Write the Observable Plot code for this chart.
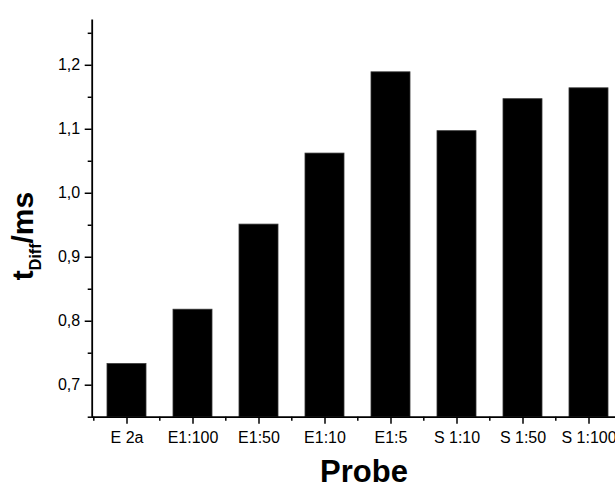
<!DOCTYPE html>
<html>
<head>
<meta charset="utf-8">
<script src="https://cdn.jsdelivr.net/npm/d3@7"></script>
<script src="https://cdn.jsdelivr.net/npm/@observablehq/plot@0.6"></script>
<style>
  html, body { margin: 0; padding: 0; background: #fff; overflow: hidden; }
  #chart svg { font-family: "Liberation Sans", Arial, sans-serif; }
</style>
</head>
<body>
<div id="chart"></div>
<script>
// Diffusion time per sample
const probes = ["E 2a", "E1:100", "E1:50", "E1:10", "E1:5", "S 1:10", "S 1:50", "S 1:100"];
const tDiff = [0.733, 0.818, 0.951, 1.062, 1.189, 1.097, 1.147, 1.164];

// y axis: domain, labelled ticks and minor ticks
const yDomain = [0.65, 1.27];
const yTicks = [0.7, 0.8, 0.9, 1.0, 1.1, 1.2];
const yMinorTicks = [0.65, 0.75, 0.85, 0.95, 1.05, 1.15, 1.25];

const rows = probes.map((probe, i) => ({probe, t: tDiff[i]}));

const W = 615, H = 486;
const plotLeft = 91.7, plotTop = 20, plotBottom = 416.7;
const xRange = [plotLeft, 622.9];
const step = (xRange[1] - xRange[0]) / probes.length;
const comma = d => d.toFixed(1).replace(".", ",");

const chart = Plot.plot({
  width: W,
  height: H,
  marginLeft: plotLeft,
  marginTop: plotTop,
  marginBottom: H - plotBottom,
  marginRight: 0,
  style: {fontFamily: "'Liberation Sans', Arial, sans-serif", fontSize: "16px", background: "#fff", color: "#000"},
  x: {type: "band", domain: probes, range: xRange, paddingInner: 0.41, paddingOuter: 0.205},
  y: {domain: yDomain, range: [plotBottom, plotTop]},
  marks: [
    Plot.barY(rows, {x: "probe", y1: yDomain[0], y2: "t", fill: "#000", stroke: "#333", strokeWidth: 0.8}),
    Plot.ruleY([yDomain[0]], {stroke: "#000", strokeWidth: 1.8}),
    Plot.frame({anchor: "left", stroke: "#000", strokeWidth: 1.8}),
    Plot.axisY(yTicks, {tickSize: 7, tickPadding: 5, tickFormat: comma, fontSize: 16, strokeWidth: 1.5, label: null}),
    Plot.axisY(yMinorTicks, {tickSize: 4, text: null, strokeWidth: 1.5, label: null}),
    Plot.axisX({tickSize: 7, tickPadding: 7, fontSize: 16, strokeWidth: 1.5, label: null}),
    Plot.axisX({tickSize: 4, text: null, dx: -step / 2, strokeWidth: 1.5, label: null})
  ]
});

document.getElementById("chart").append(chart);

// Axis titles
const svg = d3.select(chart);
svg.append("text")
  .attr("x", 364)
  .attr("y", 482)
  .attr("text-anchor", "middle")
  .attr("font-size", 31)
  .attr("font-weight", "bold")
  .attr("fill", "#000")
  .text("Probe");

const yTitle = svg.append("text")
  .attr("transform", "translate(33,236) rotate(-90)")
  .attr("text-anchor", "middle")
  .attr("font-size", 30)
  .attr("font-weight", "bold")
  .attr("fill", "#000");
yTitle.append("tspan").text("t");
yTitle.append("tspan").attr("font-size", 16).attr("dy", 8).text("Diff");
yTitle.append("tspan").attr("dy", -8).text("/ms");
</script>
</body>
</html>
